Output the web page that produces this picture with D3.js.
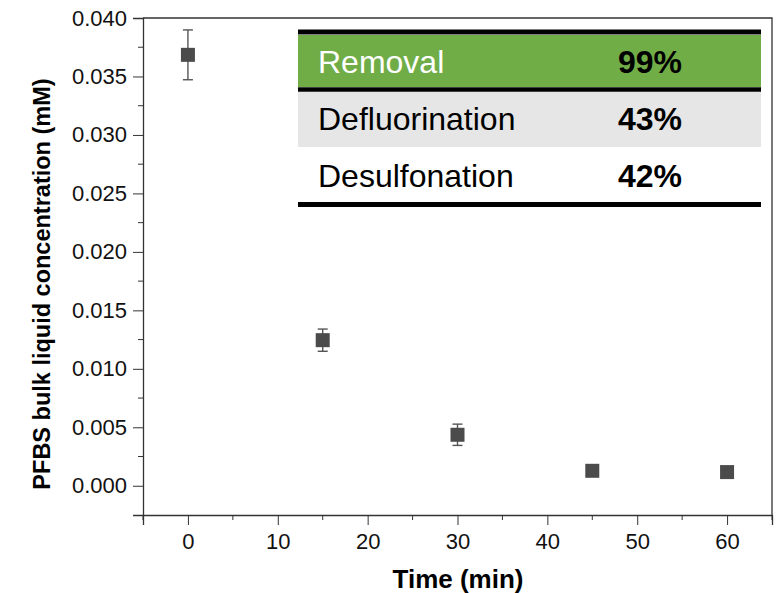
<!DOCTYPE html>
<html>
<head>
<meta charset="utf-8">
<script src="https://cdn.jsdelivr.net/npm/d3@7"></script>
<style>
  body { margin: 0; background: #fff; }
  text { font-family: Arial, "Liberation Sans", sans-serif; }
</style>
</head>
<body>
<div id="chart"></div>
<script>
        var width = 782;
        var height = 593;

        // data
        var times = [0, 15, 30, 45, 60];
        var conc = [0.03685, 0.01245, 0.00436, 0.00128, 0.00117];
        var concErr = [0.00213, 0.00095, 0.00091, 0, 0];

        var xTicks = [0, 10, 20, 30, 40, 50, 60];
        var yTicks = [0, 0.005, 0.010, 0.015, 0.020, 0.025, 0.030, 0.035, 0.040];

        var tableLabels = ["Removal", "Defluorination", "Desulfonation"];
        var tableValues = ["99%", "43%", "42%"];

        var svg = d3.select("#chart")
                    .append("svg")
                    .attr("width", width)
                    .attr("height", height);

        var x = d3.scaleLinear().domain([-5, 65]).range([143, 772]);
        var y = d3.scaleLinear().domain([-0.0025, 0.040]).range([515, 18]);

        var axisColor = "#333";

        // frame (top and right)
        svg.append("path")
            .attr("d", "M" + x(-5) + "," + y(0.040) + "H" + x(65) + "V" + y(-0.0025))
            .attr("fill", "none")
            .attr("stroke", axisColor)
            .attr("stroke-width", 1.3);

        // x axis
        var xAxis = d3.axisBottom(x)
            .tickValues(xTicks)
            .tickSize(10)
            .tickPadding(8)
            .tickFormat(d3.format("d"));
        var gx = svg.append("g")
            .attr("transform", "translate(0," + y(-0.0025) + ")")
            .call(xAxis);
        gx.select(".domain").attr("stroke", axisColor).attr("stroke-width", 1.3);

        var xMinor = d3.range(-5, 66, 10);
        gx.selectAll(".minor").data(xMinor).enter()
            .append("line")
            .attr("class", "minor")
            .attr("x1", function(d){ return x(d); })
            .attr("x2", function(d){ return x(d); })
            .attr("y1", 0).attr("y2", 5)
            .attr("stroke", axisColor);

        // y axis
        var yAxis = d3.axisLeft(y)
            .tickValues(yTicks)
            .tickSize(10)
            .tickPadding(6)
            .tickFormat(d3.format(".3f"));
        var gy = svg.append("g")
            .attr("transform", "translate(" + x(-5) + ",0)")
            .call(yAxis);
        gy.select(".domain").attr("stroke", axisColor).attr("stroke-width", 1.3);

        var yMinor = d3.range(0.0025, 0.040, 0.005);
        gy.selectAll(".minor").data(yMinor).enter()
            .append("line")
            .attr("class", "minor")
            .attr("y1", function(d){ return y(d); })
            .attr("y2", function(d){ return y(d); })
            .attr("x1", 0).attr("x2", -5)
            .attr("stroke", axisColor);

        svg.selectAll(".tick line").attr("stroke", axisColor);
        svg.selectAll(".tick text")
            .attr("fill", "#111")
            .style("font-size", "22px")
            .style("font-family", "Arial, 'Liberation Sans', sans-serif");

        // axis titles
        svg.append("text")
            .attr("x", 458)
            .attr("y", 588)
            .attr("text-anchor", "middle")
            .style("font-size", "26px")
            .style("font-weight", "bold")
            .text("Time (min)");

        svg.append("text")
            .attr("transform", "translate(50,284) rotate(-90)")
            .attr("text-anchor", "middle")
            .style("font-size", "23.5px")
            .style("font-weight", "bold")
            .text("PFBS bulk liquid concentration (mM)");

        // error bars
        var pts = times.map(function(t, i){ return {t: t, c: conc[i], e: concErr[i]}; });
        var errG = svg.append("g").attr("stroke", "#555").attr("stroke-width", 1.4);
        pts.filter(function(d){ return d.e > 0; }).forEach(function(d){
            var cx = x(d.t);
            errG.append("line")
                .attr("x1", cx).attr("x2", cx)
                .attr("y1", y(d.c + d.e)).attr("y2", y(d.c - d.e));
            errG.append("line")
                .attr("x1", cx - 5).attr("x2", cx + 5)
                .attr("y1", y(d.c + d.e)).attr("y2", y(d.c + d.e));
            errG.append("line")
                .attr("x1", cx - 5).attr("x2", cx + 5)
                .attr("y1", y(d.c - d.e)).attr("y2", y(d.c - d.e));
        });

        // square markers
        svg.selectAll(".pt").data(pts).enter()
            .append("rect")
            .attr("class", "pt")
            .attr("x", function(d){ return x(d.t) - 7; })
            .attr("y", function(d){ return y(d.c) - 7; })
            .attr("width", 14)
            .attr("height", 14)
            .attr("fill", "#4b4b4b");

        // inset table
        var tab = svg.append("g");
        var rowTop = [35, 92, 147];
        var rowH = [52, 55, 55];
        var rowFill = ["#70ad47", "#e6e6e6", "#ffffff"];
        var txtCol = ["#ffffff", "#000", "#000"];
        var baselines = [73, 130, 187];

        tab.selectAll(".row").data(tableLabels).enter()
            .append("rect")
            .attr("x", 298)
            .attr("y", function(d, i){ return rowTop[i]; })
            .attr("width", 463)
            .attr("height", function(d, i){ return rowH[i]; })
            .attr("fill", function(d, i){ return rowFill[i]; });

        [32, 89.5, 204.5].forEach(function(ly, i){
            tab.append("line")
                .attr("x1", 298).attr("x2", 761)
                .attr("y1", ly).attr("y2", ly)
                .attr("stroke", "#000")
                .attr("stroke-width", i == 1 ? 4.5 : 5);
        });

        tab.selectAll(".lab").data(tableLabels).enter()
            .append("text")
            .attr("x", 318)
            .attr("y", function(d, i){ return baselines[i]; })
            .attr("fill", function(d, i){ return txtCol[i]; })
            .style("font-size", "32px")
            .text(function(d){ return d; });

        tab.selectAll(".val").data(tableValues).enter()
            .append("text")
            .attr("x", 618)
            .attr("y", function(d, i){ return baselines[i]; })
            .attr("fill", "#000")
            .style("font-size", "32px")
            .style("font-weight", "bold")
            .text(function(d){ return d; });
</script>
</body>
</html>
